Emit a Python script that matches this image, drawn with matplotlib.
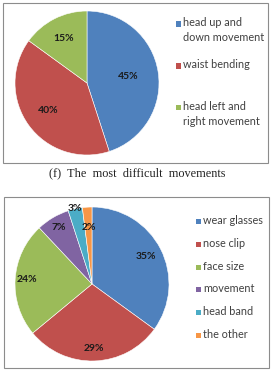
import matplotlib
matplotlib.use('Agg')
import matplotlib.pyplot as plt
from matplotlib.patches import Rectangle
import numpy as np

# Données du graphique du haut
cats_haut = ['head up and\ndown movement', 'waist bending', 'head left and\nright movement']
vals_haut = [45, 40, 15]
# Données du graphique du bas
cats_bas = ['wear glasses', 'nose clip', 'face size', 'movement', 'head band', 'the other']
vals_bas = [35, 29, 24, 7, 3, 2]

couleurs = ['#4F81BD', '#C0504D', '#9BBB59', '#8064A2', '#4BACC6', '#F79646']
W, H = 274, 371
police = 'Lato'


def px_axes(fig, cx, cy, r):
    # axes carré centré sur (cx, cy) en pixels depuis le haut
    return fig.add_axes([(cx - r) / W, (H - cy - r) / H, 2 * r / W, 2 * r / H])


def cadre(fig, x0, y0, x1, y1):
    fig.patches.append(Rectangle((x0 / W, 1 - y1 / H), (x1 - x0) / W, (y1 - y0) / H,
                                 transform=fig.transFigure, fill=False,
                                 edgecolor='#8c8c8c', linewidth=0.8))


def camembert(ax, vals, cols, dist):
    wedges, _, autotexts = ax.pie(vals, colors=cols, startangle=90, counterclock=False,
                                  autopct='%d%%', pctdistance=0.7,
                                  wedgeprops=dict(edgecolor='white', linewidth=0.4),
                                  textprops=dict(fontsize=7.5, fontweight='bold',
                                                 color='#1a1a1a', family=police))
    for t, w, d in zip(autotexts, wedges, dist):
        a = np.deg2rad((w.theta1 + w.theta2) / 2)
        t.set_position((d * np.cos(a), d * np.sin(a)))
    ax.set_xlim(-1, 1)
    ax.set_ylim(-1, 1)
    ax.set_aspect('equal')
    ax.axis('off')
    return wedges


def legende(fig, cats, cols, x, y0, pas):
    for i, (c, col) in enumerate(zip(cats, cols)):
        y = y0 + i * pas
        fig.patches.append(Rectangle(((x - 7) / W, 1 - (y + 2.5) / H), 5 / W, 5 / H,
                                     transform=fig.transFigure, facecolor=col,
                                     edgecolor='none'))
        fig.text(x / W, 1 - (y - 6.5) / H, c, ha='left', va='top', fontsize=7.8,
                 color='#404040', family=police, linespacing=1.35)


fig = plt.figure(figsize=(W / 100, H / 100), dpi=100)
fig.patch.set_facecolor('white')

# Graphique du haut
cadre(fig, 3, 3, 268, 163)
ax1 = px_axes(fig, 87, 83, 72)
camembert(ax1, vals_haut, couleurs[:3], [0.58, 0.66, 0.7])
legende(fig, cats_haut, couleurs[:3], 183, 24, 42)
fig.text(137 / W, 1 - 173 / H, '(f)  The  most  difficult  movements', ha='center',
         va='center', fontsize=8.8, family='Liberation Serif', color='#222222')

# Graphique du bas
cadre(fig, 4, 197, 269, 368)
ax2 = px_axes(fig, 92, 284, 77)
camembert(ax2, vals_bas, couleurs, [0.78, 0.84, 0.84, 0.85, 1.0, 0.74])
legende(fig, cats_bas, couleurs, 203, 222, 22.6)

fig.savefig('out.png', dpi=100)
